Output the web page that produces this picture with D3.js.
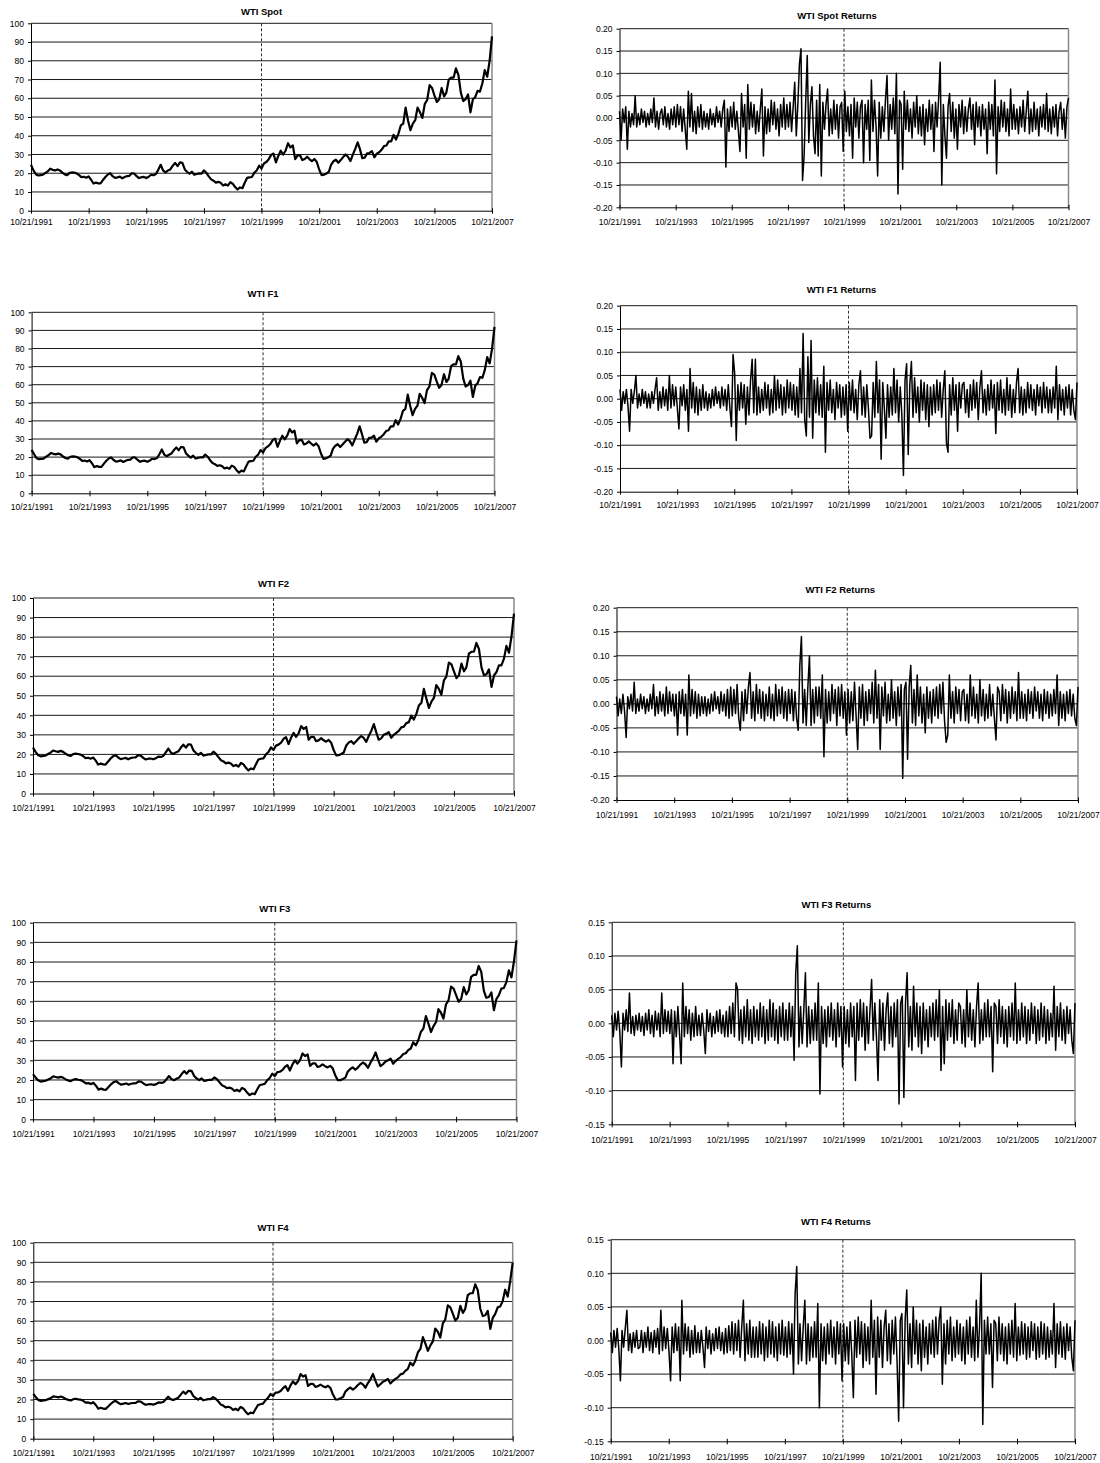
<!DOCTYPE html>
<html>
<head>
<meta charset="utf-8">
<script src="https://cdn.jsdelivr.net/npm/d3@7"></script>
<style>
  body { margin: 0; background: #fff; }
  svg { display: block; font-family: "Liberation Sans", Arial, sans-serif; }
</style>
</head>
<body>
<script>
// x axis: 10/21/1991 .. 10/21/2007, a tick every two years
const startDate = new Date(1991, 9, 21);
const endDate = new Date(2007, 9, 21);
const splitDate = new Date(1999, 9, 21);
const tickYears = [1991, 1993, 1995, 1997, 1999, 2001, 2003, 2005, 2007];

const priceTicks = [0, 10, 20, 30, 40, 50, 60, 70, 80, 90, 100];
const retTicksWide = [-0.2, -0.15, -0.1, -0.05, 0, 0.05, 0.1, 0.15, 0.2];
const retTicksNarrow = [-0.15, -0.1, -0.05, 0, 0.05, 0.1, 0.15];

// monthly prices, Oct 1991 .. Oct 2007
const spotPrice = [24.5,21.5,19.5,
  18.8,19.0,19.2,20.2,21.0,22.4,21.8,21.5,22.0,21.5,20.3,19.4,
  19.0,20.2,20.4,20.3,19.9,19.0,17.9,18.1,17.6,18.3,16.5,14.5,
  15.0,14.6,14.6,16.4,18.0,19.3,20.0,18.4,17.5,17.8,18.2,17.3,
  18.0,18.5,18.6,20.0,19.8,18.4,17.4,17.9,18.0,17.4,18.1,19.2,
  18.9,19.6,21.8,24.5,21.5,20.5,21.4,22.0,24.0,25.5,23.8,25.8,
  25.5,22.0,20.8,19.7,20.8,19.2,19.6,19.9,19.8,21.5,20.2,18.3,
  16.7,16.0,15.0,15.4,14.9,13.5,14.1,13.4,15.2,14.4,12.6,11.3,
  12.4,12.0,14.8,17.5,17.8,18.0,20.2,21.5,24.0,22.5,25.2,26.0,
  27.5,29.8,30.5,25.8,29.2,32.0,30.0,32.0,36.0,33.8,34.8,27.5,
  29.5,29.6,27.0,27.6,28.8,27.4,26.4,27.6,26.0,22.0,19.0,19.2,
  19.8,20.8,24.5,26.4,27.2,25.6,27.0,28.6,30.0,28.8,26.5,29.8,
  33.0,36.5,33.0,28.0,28.3,30.6,30.8,31.8,28.5,30.4,31.2,32.5,
  34.5,34.8,37.0,37.0,40.5,38.0,41.0,45.5,46.5,55.0,48.0,43.0,
  46.5,48.5,55.0,52.5,49.5,57.0,59.0,67.0,65.5,61.5,58.0,59.5,
  65.5,61.0,63.0,70.0,71.0,71.0,76.0,72.5,63.0,58.5,59.5,62.0,
  52.5,59.5,60.5,64.0,63.5,68.0,75.0,71.5,80.0,93.0];

const f1Price = [24.0,21.6,19.5,
  18.8,19.0,19.2,20.2,21.0,22.3,21.8,21.5,21.9,21.5,20.3,19.5,
  19.1,20.2,20.4,20.3,19.9,19.0,17.9,18.1,17.6,18.3,16.6,14.5,
  15.0,14.6,14.6,16.4,18.0,19.2,19.8,18.4,17.5,17.8,18.2,17.3,
  18.0,18.5,18.6,19.9,19.7,18.4,17.4,17.9,18.0,17.4,18.1,19.1,
  18.9,19.5,21.6,24.2,21.4,20.5,21.3,22.0,23.9,25.3,23.8,25.6,
  25.4,22.0,20.8,19.7,20.8,19.2,19.6,19.9,19.8,21.4,20.2,18.3,
  16.7,16.1,15.1,15.5,15.0,13.7,14.2,13.5,15.3,14.6,12.8,11.4,
  12.5,12.1,14.8,17.5,17.8,18.0,20.2,21.4,23.9,22.5,25.0,25.9,
  27.2,29.5,30.2,25.7,29.0,31.8,29.8,31.8,35.5,33.6,34.6,27.6,
  29.4,29.5,27.0,27.5,28.7,27.4,26.4,27.6,26.0,22.0,19.0,19.3,
  19.9,20.8,24.5,26.3,27.1,25.6,27.0,28.5,29.9,28.8,26.5,29.7,
  32.8,37.0,33.0,28.0,28.3,30.6,30.8,31.8,28.5,30.4,31.2,32.5,
  34.4,34.8,37.0,37.0,40.4,38.0,41.0,45.5,46.6,54.5,48.2,43.2,
  46.6,48.5,55.0,52.8,49.8,57.0,59.0,66.5,65.6,61.8,58.3,59.8,
  65.8,61.5,63.2,70.2,71.2,71.2,75.8,72.8,63.5,59.0,59.8,62.2,
  53.2,59.5,60.8,64.2,63.8,68.2,75.2,71.8,80.2,92.0];

const f2Price = [23.5,21.3,19.7,
  19.0,19.2,19.4,20.2,20.9,22.0,21.6,21.3,21.8,21.3,20.3,19.6,
  19.2,20.2,20.4,20.2,19.9,19.1,18.1,18.3,17.8,18.4,16.8,14.8,
  15.3,14.9,14.8,16.4,17.9,19.1,19.6,18.4,17.6,17.9,18.2,17.5,
  18.1,18.4,18.5,19.6,19.4,18.2,17.4,17.8,17.9,17.5,18.0,18.9,
  18.7,19.2,21.0,23.0,21.0,20.2,21.0,21.6,23.5,25.0,23.5,25.2,
  25.0,22.0,20.8,19.8,20.8,19.4,19.7,20.0,20.0,21.4,20.3,18.6,
  17.0,16.4,15.4,15.8,15.3,14.0,14.6,13.8,15.6,14.9,13.1,11.8,
  12.8,12.4,14.9,17.4,17.8,18.0,20.0,21.2,23.6,22.3,24.5,25.0,
  26.0,28.0,28.8,25.3,28.5,31.0,29.0,30.8,34.5,33.0,34.0,27.5,
  29.0,29.0,26.8,27.2,28.3,27.2,26.5,27.4,26.0,22.2,19.5,19.6,
  20.2,21.0,24.4,26.0,26.8,25.4,26.7,28.2,29.4,28.4,26.4,29.4,
  32.0,35.5,31.5,27.5,28.2,30.0,30.5,31.4,28.5,30.0,31.0,32.0,
  33.8,34.2,36.0,36.5,39.8,37.8,40.6,45.0,46.4,53.5,48.5,43.8,
  47.0,49.0,55.5,53.5,50.5,57.8,59.8,67.0,66.0,62.5,59.0,60.5,
  66.5,62.5,64.5,71.5,72.5,72.5,77.0,74.0,64.5,60.5,61.0,63.5,
  54.5,60.5,62.0,65.5,65.5,69.0,75.5,72.0,80.5,92.0];

const f3Price = [23.0,21.3,19.8,
  19.2,19.4,19.6,20.2,20.8,21.8,21.5,21.2,21.6,21.1,20.3,19.7,
  19.4,20.2,20.4,20.1,19.9,19.2,18.3,18.4,17.9,18.5,17.0,15.1,
  15.6,15.1,15.0,16.4,17.8,18.9,19.4,18.4,17.6,17.9,18.2,17.6,
  18.1,18.3,18.4,19.3,19.1,18.1,17.4,17.7,17.8,17.5,17.9,18.7,
  18.5,18.9,20.4,22.0,20.5,19.9,20.6,21.2,23.0,24.5,23.2,24.8,
  24.6,21.9,20.8,19.9,20.8,19.5,19.8,20.1,20.1,21.3,20.4,18.9,
  17.3,16.7,15.8,16.1,15.7,14.4,15.0,14.2,16.0,15.3,13.6,12.3,
  13.1,12.8,15.0,17.3,17.7,18.0,19.8,21.0,23.2,22.0,24.0,24.2,
  25.0,26.7,27.6,24.8,27.8,30.0,28.3,30.0,33.5,32.2,33.0,27.2,
  28.4,28.4,26.6,27.0,27.9,27.0,26.4,27.2,25.9,22.4,19.9,19.9,
  20.5,21.2,24.2,25.6,26.4,25.2,26.3,27.8,28.9,28.0,26.2,28.8,
  31.0,34.0,30.5,27.0,28.0,29.4,30.0,30.9,28.3,29.6,30.7,31.6,
  33.2,33.6,35.2,36.0,39.2,37.6,40.2,44.5,46.2,52.5,48.6,44.4,
  47.4,49.5,56.0,54.2,51.2,58.5,60.5,67.5,66.5,63.2,59.8,61.2,
  67.2,63.5,65.5,72.5,73.5,73.5,78.0,75.0,65.5,61.8,62.2,64.5,
  55.5,61.3,63.0,66.5,66.8,69.8,75.8,72.2,80.5,91.0];

const f4Price = [22.8,21.2,19.8,
  19.3,19.5,19.7,20.2,20.7,21.6,21.4,21.1,21.5,21.0,20.3,19.8,
  19.5,20.2,20.4,20.1,19.9,19.3,18.4,18.5,18.0,18.6,17.2,15.3,
  15.8,15.3,15.2,16.4,17.7,18.8,19.3,18.3,17.6,17.9,18.2,17.7,
  18.1,18.2,18.3,19.1,18.9,18.0,17.3,17.6,17.7,17.4,17.8,18.5,
  18.4,18.7,20.0,21.4,20.2,19.7,20.3,20.9,22.5,24.0,22.9,24.4,
  24.2,21.8,20.8,19.9,20.8,19.6,19.9,20.2,20.2,21.2,20.4,19.1,
  17.5,16.9,16.0,16.3,15.9,14.7,15.3,14.5,16.2,15.5,13.8,12.5,
  13.3,13.0,15.0,17.2,17.6,17.9,19.6,20.8,22.8,21.8,23.5,23.6,
  24.3,25.8,26.8,24.4,27.2,29.2,27.8,29.4,33.0,31.7,32.4,26.9,
  28.0,28.0,26.4,26.8,27.6,26.8,26.2,27.0,25.8,22.5,20.1,20.0,
  20.7,21.3,24.0,25.3,26.1,25.0,26.0,27.4,28.5,27.7,26.0,28.4,
  30.3,33.0,29.8,26.6,27.8,29.0,29.6,30.5,28.2,29.4,30.5,31.3,
  32.8,33.2,34.6,35.6,38.8,37.4,39.8,44.0,45.8,51.8,48.5,44.8,
  47.6,49.8,56.2,54.6,51.6,58.8,60.8,68.0,67.0,63.8,60.3,61.7,
  67.8,64.2,66.2,73.2,74.2,74.2,78.8,75.8,66.3,62.6,63.0,65.2,
  56.0,61.8,63.6,67.0,67.5,70.2,76.0,72.5,80.5,90.0];

// returns, 18 readings a year across the same span
const spotRet = [
  .015,-.05,.02,-.01,.025,-.07,.015,-.02,.01,-.015,.05,-.02,.01,-.015,.02,-.01,.015,-.02,
  .01,-.015,.02,-.01,.045,-.02,.015,-.025,.01,.02,-.015,.025,-.02,.01,-.025,.02,-.015,.025,
  -.02,.03,-.015,.025,-.03,.02,-.025,-.07,.06,-.02,.055,-.03,.015,-.035,.025,-.02,.03,-.025,
  .015,-.02,.01,-.025,.02,-.015,.01,-.02,.025,-.01,.015,-.02,.02,.04,-.11,.02,-.03,.025,
  -.02,.035,-.025,.015,-.03,-.075,.055,-.02,.03,-.09,.075,-.025,.035,-.02,.03,-.035,.015,-.03,
  .02,.065,-.085,.025,-.035,.02,-.03,.04,-.015,.035,-.025,.02,-.04,.03,-.02,.045,-.025,.03,
  -.02,.035,-.03,.025,.08,-.04,.03,.12,.155,-.14,-.085,.035,.14,-.055,.03,.07,-.04,-.08,
  .04,-.085,.075,-.13,.035,-.025,.03,.065,-.04,.02,-.035,.04,-.025,.03,-.045,.025,.035,-.075,
  .06,-.03,.025,-.04,.03,-.09,.045,-.02,.035,-.045,.025,.04,-.1,.03,-.025,.04,-.095,.085,
  -.03,.04,-.02,-.13,.035,-.045,.025,-.03,.04,.095,-.05,.03,-.025,.045,-.035,.1,-.17,.04,
  .03,-.115,.06,-.025,.04,-.03,.02,-.045,.035,-.02,.05,-.035,.025,-.04,.03,-.06,.02,-.03,
  .04,-.025,.03,-.075,.035,-.02,.045,.125,-.15,.03,-.04,-.09,.025,.055,-.03,.035,-.045,.02,
  -.07,.03,-.02,.04,-.035,.025,-.03,.02,.045,-.025,.03,-.06,.035,-.02,.025,-.04,.03,-.025,
  .02,-.08,.035,-.025,.03,-.04,.085,-.125,.025,-.03,.04,-.02,.035,-.03,.02,-.04,.065,-.025,
  .03,-.025,.02,-.035,.025,-.02,.04,-.03,.015,.06,-.035,.02,-.03,.035,-.025,.02,-.04,.025,
  -.02,.03,-.025,.055,-.03,.02,-.035,.025,-.02,.03,-.04,.015,.035,-.025,.02,-.045,.025,.045];

const f1Ret = [
  .02,-.025,.015,-.01,.02,-.015,-.07,.02,-.01,.015,.05,-.02,.01,-.015,.02,-.01,.015,-.02,
  .01,-.02,.015,-.01,.02,.045,-.025,.015,-.02,.025,-.015,.02,-.025,.05,-.02,.03,-.015,.025,
  -.02,-.065,.025,-.015,.03,-.025,.02,-.07,.065,-.02,.035,-.03,.025,-.035,.02,-.025,.03,-.02,
  .015,-.025,.01,-.02,.02,-.015,.025,-.01,.015,-.02,.025,-.015,.02,-.025,.03,-.02,-.06,.095,
  .055,-.09,.03,-.025,.035,-.02,.03,-.055,.025,-.035,.04,.085,-.03,.085,-.035,.025,-.03,.02,
  -.025,.035,-.02,.03,-.035,.02,-.03,.05,-.025,.04,-.02,.03,-.035,.025,-.03,.04,-.02,.035,
  -.025,.03,-.035,.025,-.04,.065,-.03,.14,-.045,-.08,.09,-.04,.125,-.085,.04,-.03,.045,-.035,
  .03,-.04,.07,-.115,.035,-.025,.04,-.03,.02,-.045,.035,-.02,.03,-.04,.025,-.035,.03,-.07,
  .035,-.025,.04,-.03,.02,-.045,.03,.06,-.035,.025,-.04,.03,-.02,-.085,-.08,.035,-.04,.08,
  -.03,.04,-.13,.035,-.02,-.085,.03,-.04,.025,-.035,.065,-.03,.04,-.05,.025,-.035,-.165,.04,
  .075,-.12,.03,.08,-.04,.045,-.03,.025,-.05,.04,-.025,.035,-.045,.03,-.06,.025,-.035,.03,
  -.03,.04,-.025,.035,-.04,.02,.06,-.095,-.115,.03,-.035,.045,-.025,.03,-.07,.035,-.02,.03,
  .035,-.03,.02,-.04,.03,-.025,.04,-.02,.035,-.045,.025,.06,-.03,.02,-.035,.03,-.025,.04,
  -.02,.03,-.075,.035,-.025,.04,-.03,.02,-.035,.045,-.025,.03,-.04,.02,-.03,.035,.065,-.03,
  .025,-.035,.02,-.03,.035,-.02,.03,-.025,.02,-.035,.03,-.015,.025,-.03,.035,-.02,.025,-.03,
  .02,-.03,.025,-.02,.07,-.045,.03,-.025,.02,-.035,.025,-.02,.03,-.035,.02,-.025,-.045,.035];

const f2Ret = [
  .015,-.025,.01,-.02,.02,-.015,-.07,.015,-.01,.02,-.015,.045,-.02,.01,-.015,.02,-.01,.015,
  -.02,.01,-.015,.02,-.01,.04,-.025,.015,-.02,.025,-.015,.02,-.025,.035,-.02,.025,-.015,.02,
  -.025,.02,-.065,.025,-.02,.03,-.025,.02,-.065,.06,-.025,.03,-.02,.025,-.03,.02,-.025,.015,
  -.02,.015,-.025,.01,-.02,.02,-.015,.025,-.01,.015,-.02,.025,-.015,.02,-.025,.03,-.03,.035,
  -.025,.03,-.02,.04,-.03,-.055,.025,-.035,.03,-.02,.035,.065,-.03,.025,-.035,.04,-.02,.03,
  -.03,.025,-.035,.02,-.025,.035,-.03,.02,-.035,.04,-.025,.03,-.02,.035,-.03,.025,-.035,.03,
  -.02,.03,-.035,.025,-.03,-.055,.08,.14,-.04,.03,-.045,.035,.1,-.045,.03,-.04,.035,-.025,
  .035,-.03,.06,-.11,.03,-.04,.025,-.035,.04,-.02,.03,-.045,.035,-.025,.04,-.03,.025,-.065,
  .03,-.04,.025,-.035,.045,-.025,-.095,.035,-.03,.04,-.045,.025,-.035,.03,-.02,.045,-.04,.07,
  -.03,.04,-.095,.035,-.025,.045,-.04,.02,-.035,.05,-.03,.025,-.045,.035,-.025,.04,-.155,.03,
  .045,-.115,.035,.08,-.04,.03,-.045,.06,-.025,.035,-.04,.02,-.06,.035,-.03,.025,-.04,.03,
  -.025,.035,-.03,.04,-.02,.045,-.035,-.08,-.065,.06,-.03,.025,-.04,.035,-.02,.03,-.035,.025,
  .03,-.035,.02,-.04,.06,-.025,.035,-.03,.02,-.04,.05,-.025,.03,-.035,.02,-.03,.04,-.025,
  .02,-.03,-.075,.035,.025,-.035,.04,-.02,.03,-.04,.025,-.03,.035,-.02,.025,-.035,.065,-.03,
  .025,-.03,.02,-.035,.03,-.02,.025,-.03,.035,-.015,.025,-.03,.02,-.035,.03,-.02,.025,-.03,
  .02,-.025,.03,-.02,.06,-.045,.025,-.03,.02,-.035,.025,-.02,.03,-.025,.02,-.03,-.045,.035];

const f3Ret = [
  .012,-.02,.015,-.01,.018,-.012,-.065,.015,-.01,.02,-.012,.045,-.015,.01,-.018,.012,-.01,.015,
  -.012,.01,-.018,.015,-.01,.02,-.015,.012,-.02,.018,-.01,.015,-.02,.045,-.015,.02,-.012,.018,
  -.015,.02,-.06,.018,-.02,.025,-.015,-.06,.06,-.02,.025,-.015,.02,-.025,.015,-.02,.025,-.018,
  .012,-.018,.015,-.01,-.045,.02,-.012,.015,-.02,.01,-.015,.018,-.012,.02,-.015,.012,-.02,.018,
  -.02,.025,-.015,.03,-.02,.06,.05,-.025,.02,-.03,.025,-.02,.035,-.025,.02,-.03,.025,-.02,
  .02,-.025,.03,-.02,.025,-.03,.02,-.025,.035,-.02,.03,-.025,.02,-.03,.025,-.02,.03,-.025,
  .02,-.025,.03,-.02,.025,-.055,.075,.115,-.035,.025,-.03,.02,.075,-.035,.025,-.03,.02,-.025,
  .03,-.025,.06,-.105,.025,-.03,.02,-.035,.025,-.02,.03,-.025,.02,-.035,.03,-.02,.025,-.065,
  .025,-.03,.02,-.035,.03,-.02,.025,-.085,.03,-.025,.035,-.02,.03,-.04,.025,-.03,.02,.065,
  -.025,.03,-.02,-.085,.035,-.025,.03,-.04,.02,.045,-.03,.025,-.035,.03,-.02,.035,-.12,.03,
  .04,-.11,.03,.075,-.035,.025,-.04,.055,-.02,.03,-.035,.025,-.045,.03,-.025,.02,-.035,.025,
  -.02,.03,-.025,.035,-.02,.05,-.07,.025,-.06,.035,-.025,.03,-.02,.035,-.03,.02,-.025,.03,
  .025,-.03,.02,-.035,.05,-.02,.03,-.025,.02,-.035,.025,.06,-.03,.02,-.025,.03,-.02,.035,
  -.02,.025,-.072,.03,.025,-.03,.035,-.02,.025,-.03,.02,-.035,.025,-.02,.03,-.025,.06,-.03,
  .02,-.025,.03,-.02,.025,-.03,.02,-.025,.03,-.015,.025,-.03,.02,-.025,.03,-.02,.025,-.03,
  .02,-.025,.015,-.02,.055,-.04,.025,-.02,.03,-.025,.02,-.03,.025,-.015,.02,-.025,-.045,.03];

const f4Ret = [
  .012,-.018,.015,-.01,.018,-.012,-.06,.015,-.01,.018,.045,-.015,.01,-.018,.012,-.01,.015,-.012,
  -.01,.015,-.018,.012,-.01,.02,-.015,.012,-.018,.015,-.01,.018,-.02,.045,-.015,.02,-.012,.018,
  -.015,-.06,.02,-.018,.025,-.015,.02,-.06,.06,-.02,.025,-.015,.02,-.025,.015,-.02,.022,-.018,
  .012,-.018,.015,-.01,-.04,.02,-.012,.015,-.02,.01,-.015,.018,-.012,.02,-.015,.012,-.02,.018,
  -.018,.022,-.015,.028,-.02,.025,-.015,.03,-.025,.02,.06,-.03,.025,-.02,.03,-.025,.02,-.025,
  .02,-.025,.028,-.02,.025,-.03,.02,-.025,.03,-.02,.028,-.025,.02,-.03,.025,-.02,.03,-.022,
  .02,-.025,.028,-.02,.025,-.05,.07,.11,-.035,.025,-.03,.02,.06,-.035,.025,-.03,.02,-.025,
  .028,-.025,.055,-.1,.025,-.03,.02,-.035,.025,-.02,.03,-.025,.02,-.035,.028,-.02,.025,-.06,
  .025,-.03,.02,-.035,.028,-.02,-.085,.03,-.025,.035,-.02,.028,-.04,.025,-.03,.02,-.035,.06,
  -.025,.03,-.08,.035,-.025,.03,-.04,.02,.045,-.03,.025,-.035,.03,-.02,.035,-.03,-.12,.03,
  .04,-.1,.03,.075,-.035,.025,-.04,.05,-.02,.03,-.035,.025,-.045,.03,-.025,.02,-.035,.025,
  -.02,.03,-.025,.035,-.02,.03,.05,-.065,.025,-.035,.03,-.02,.035,-.03,.02,-.025,.03,-.02,
  .025,-.03,.02,-.035,.03,-.02,.035,-.025,.02,-.03,.06,-.025,.02,.1,-.125,.03,-.02,.035,
  -.02,.025,-.07,.03,.025,-.03,.035,-.02,.025,-.03,.02,-.035,.025,-.02,.03,-.025,.055,-.03,
  .02,-.022,.028,-.02,.025,-.028,.02,-.025,.028,-.015,.025,-.028,.02,-.025,.028,-.02,.025,-.028,
  .02,-.025,.015,-.02,.055,-.04,.025,-.02,.028,-.025,.02,-.028,.025,-.015,.02,-.025,-.045,.03];

// panel boxes on the page
const panels = [
  { title: "WTI Spot", values: spotPrice, kind: "price", left: 31, right: 492, top: 23.3, bottom: 210.7, titleY: 11.7, labelY: 222, titleShift: 0 },
  { title: "WTI Spot Returns", values: spotRet, kind: "ret", wide: true, left: 619.5, right: 1068.5, top: 28.7, bottom: 207.3, titleY: 15.7, labelY: 222, titleShift: -7 },
  { title: "WTI F1", values: f1Price, kind: "price", left: 31.6, right: 494.5, top: 312.3, bottom: 493.3, titleY: 294, labelY: 507, titleShift: 0 },
  { title: "WTI F1 Returns", values: f1Ret, kind: "ret", wide: true, left: 620, right: 1077, top: 305.7, bottom: 491.7, titleY: 290, labelY: 505, titleShift: -7 },
  { title: "WTI F2", values: f2Price, kind: "price", left: 33, right: 514, top: 598, bottom: 793.5, titleY: 583.3, labelY: 808, titleShift: 0 },
  { title: "WTI F2 Returns", values: f2Ret, kind: "ret", wide: true, left: 616.5, right: 1078, top: 607.7, bottom: 800, titleY: 590, labelY: 815.5, titleShift: -7 },
  { title: "WTI F3", values: f3Price, kind: "price", left: 33, right: 516.5, top: 922.7, bottom: 1119.3, titleY: 908.3, labelY: 1134, titleShift: 0 },
  { title: "WTI F3 Returns", values: f3Ret, kind: "ret", wide: false, left: 611.7, right: 1075, top: 922.3, bottom: 1124.3, titleY: 905, labelY: 1140, titleShift: -7 },
  { title: "WTI F4", values: f4Price, kind: "price", left: 33.3, right: 512.7, top: 1242.7, bottom: 1438.7, titleY: 1228, labelY: 1452.7, titleShift: 0 },
  { title: "WTI F4 Returns", values: f4Ret, kind: "ret", wide: false, left: 610.7, right: 1075, top: 1239.7, bottom: 1441.3, titleY: 1222, labelY: 1456.7, titleShift: -7 }
];

const svg = d3.select("body").append("svg")
  .attr("width", 1100)
  .attr("height", 1463);

const xTicks = tickYears.map(yr => new Date(yr, 9, 21));
const dateFmt = d3.timeFormat("%m/%d/%Y");

panels.forEach(drawPanel);

function drawPanel(p) {
  const ticks = p.kind === "price" ? priceTicks : (p.wide ? retTicksWide : retTicksNarrow);
  const x = d3.scaleTime().domain([startDate, endDate]).range([p.left, p.right]);
  const y = d3.scaleLinear().domain([ticks[0], ticks[ticks.length - 1]]).range([p.bottom, p.top]);
  const g = svg.append("g");

  // horizontal gridlines (the top one closes the plot area)
  g.selectAll("line.grid").data(ticks.slice(1)).join("line")
    .attr("class", "grid")
    .attr("x1", p.left).attr("x2", p.right)
    .attr("y1", d => y(d)).attr("y2", d => y(d))
    .attr("stroke", "#1a1a1a")
    .attr("stroke-width", 1);

  // grey right edge of the plot area
  g.append("line")
    .attr("x1", p.right).attr("x2", p.right)
    .attr("y1", p.top).attr("y2", p.bottom)
    .attr("stroke", "#8a8a8a")
    .attr("stroke-width", 1.5);

  // dashed marker at 10/21/1999
  g.append("line")
    .attr("x1", x(splitDate)).attr("x2", x(splitDate))
    .attr("y1", p.top).attr("y2", p.bottom)
    .attr("stroke", "#333")
    .attr("stroke-width", 1)
    .attr("stroke-dasharray", "3,2");

  // the series
  const n = p.values.length;
  const dates = p.kind === "price"
    ? p.values.map((v, i) => d3.timeMonth.offset(startDate, i))
    : p.values.map((v, i) => new Date(+startDate + i * (endDate - startDate) / (n - 1)));
  const line = d3.line()
    .x((d, i) => x(dates[i]))
    .y(d => y(d));
  g.append("path")
    .datum(p.values)
    .attr("d", line)
    .attr("fill", "none")
    .attr("stroke", "#000")
    .attr("stroke-width", p.kind === "price" ? 2.2 : 1.5)
    .attr("stroke-linejoin", "round");

  // y axis
  const yFmt = p.kind === "price" ? (d => String(d)) : (d => d.toFixed(2));
  const yAxis = g.append("g")
    .attr("transform", `translate(${p.left},0)`)
    .call(d3.axisLeft(y).tickValues(ticks).tickFormat(yFmt).tickSize(3).tickSizeOuter(0).tickPadding(4));
  yAxis.select(".domain").attr("stroke", "#000");
  yAxis.selectAll("text").attr("font-size", "8.5px").attr("fill", "#000")
    .attr("font-family", "Liberation Sans, Arial, sans-serif");

  // x axis, ticks cross the line
  const xAxis = g.append("g")
    .attr("transform", `translate(0,${p.bottom})`)
    .call(d3.axisBottom(x).tickValues(xTicks).tickFormat(dateFmt).tickSizeOuter(0));
  xAxis.select(".domain").attr("stroke", "#000");
  xAxis.selectAll(".tick line").attr("y1", -2.5).attr("y2", 3).attr("stroke", "#000");
  xAxis.selectAll("text")
    .attr("y", p.labelY - p.bottom)
    .attr("dy", "0.35em")
    .attr("font-size", "8.5px").attr("fill", "#000")
    .attr("font-family", "Liberation Sans, Arial, sans-serif");

  // title
  svg.append("text")
    .attr("x", (p.left + p.right) / 2 + p.titleShift)
    .attr("y", p.titleY)
    .attr("dy", "0.35em")
    .attr("text-anchor", "middle")
    .attr("font-size", "9.5px")
    .attr("font-weight", "bold")
    .text(p.title);
}
</script>
</body>
</html>
